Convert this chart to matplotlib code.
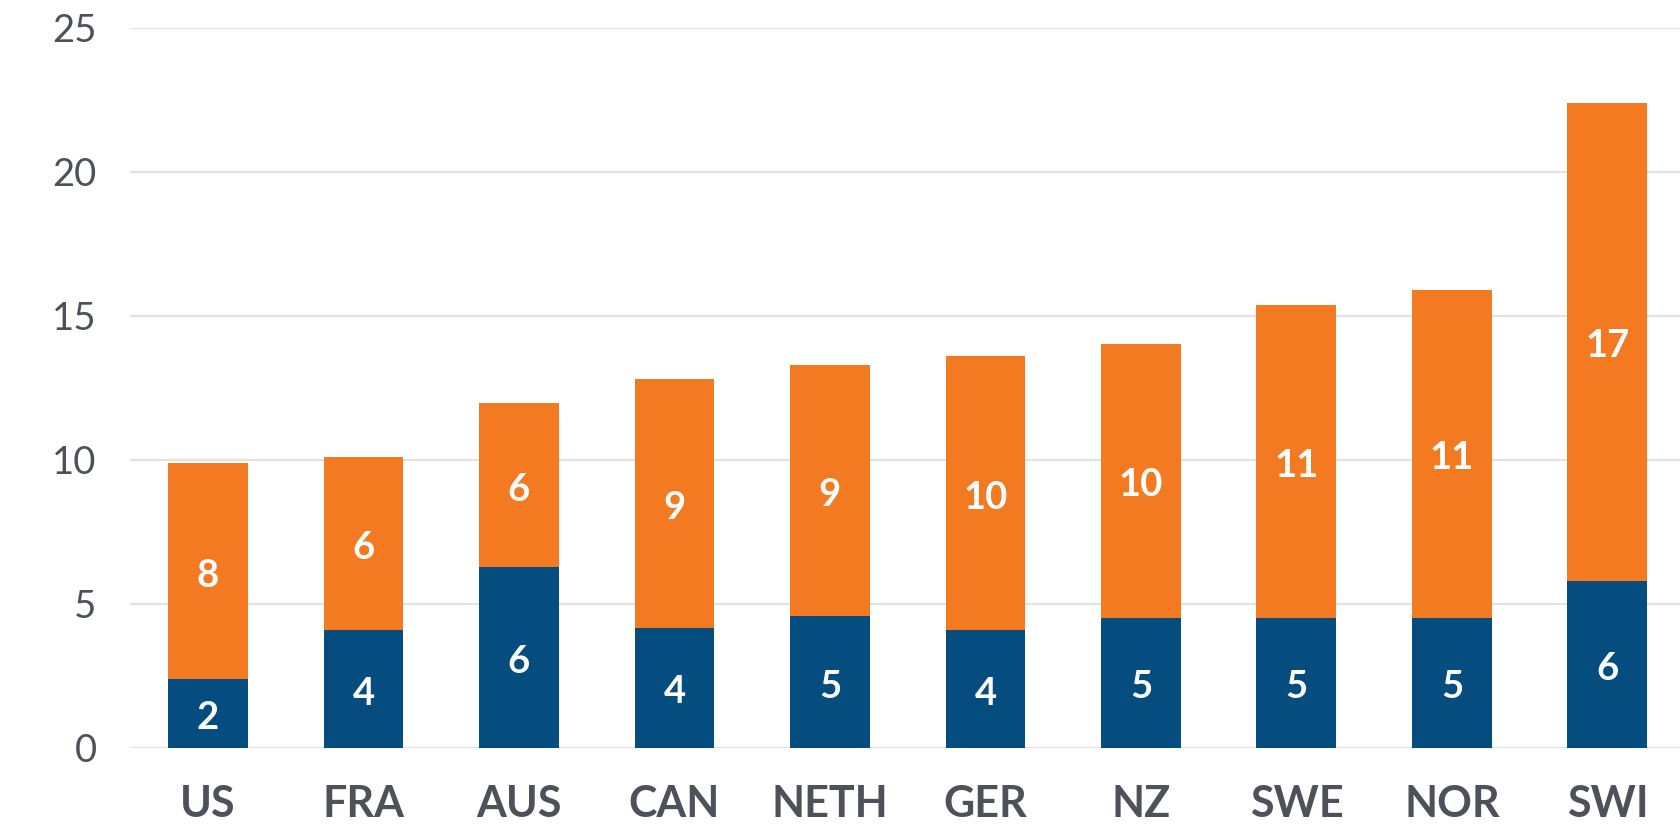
import matplotlib
matplotlib.use("Agg")
import matplotlib.pyplot as plt
import numpy as np

categories = ["US", "FRA", "AUS", "CAN", "NETH", "GER", "NZ", "SWE", "NOR", "SWI"]
blue_values = [2.38, 4.08, 6.27, 4.18, 4.57, 4.08, 4.52, 4.52, 4.52, 5.79]
orange_values = [7.52, 6.02, 5.72, 8.62, 8.72, 9.52, 9.51, 10.86, 11.38, 16.62]
y_ticks = [0, 5, 10, 15, 20, 25]

BLUE = "#054d7f"
ORANGE = "#f47a21"
GRAY = "#4d525a"
GRID = "#e2e2e2"

plt.rcParams['font.family'] = ['Lato', 'DejaVu Sans']

fig = plt.figure(figsize=(16.81, 8.40), dpi=100)
ax = fig.add_axes([130/1681, 1 - 748/840, 1 - 130/1681, (748 - 28)/840])

x = np.arange(len(categories))
w = 0.514
ax.bar(x, blue_values, width=w, color=BLUE, zorder=3)
ax.bar(x, orange_values, width=w, bottom=blue_values, color=ORANGE, zorder=3)

for i in range(len(categories)):
    b = blue_values[i]
    o = orange_values[i]
    ax.annotate(f"{round(b):d}", (x[i], b / 2), xytext=(0, -3.2),
                textcoords="offset points", ha="center", va="center",
                color="white", fontsize=27.5, fontweight="bold", zorder=4)
    ax.annotate(f"{round(o):d}", (x[i], b + o / 2), xytext=(0, -3.2),
                textcoords="offset points", ha="center", va="center",
                color="white", fontsize=27.5, fontweight="bold", zorder=4)

ax.set_ylim(0, 25)
ax.set_xlim(-0.5016, 9.473)
ax.set_yticks(y_ticks)
ax.set_yticklabels([str(t) for t in y_ticks])
ax.set_xticks(x)
ax.set_xticklabels(categories, fontweight="bold")
ax.grid(axis="y", color=GRID, linewidth=1.5, zorder=0)
ax.set_axisbelow(True)
for s in ax.spines.values():
    s.set_visible(False)
ax.tick_params(axis="y", length=0, pad=24, labelsize=27.5, labelcolor=GRAY)
ax.tick_params(axis="x", length=0, pad=26, labelsize=31, labelcolor=GRAY)

fig.savefig("out.png", dpi=100, facecolor="white")
